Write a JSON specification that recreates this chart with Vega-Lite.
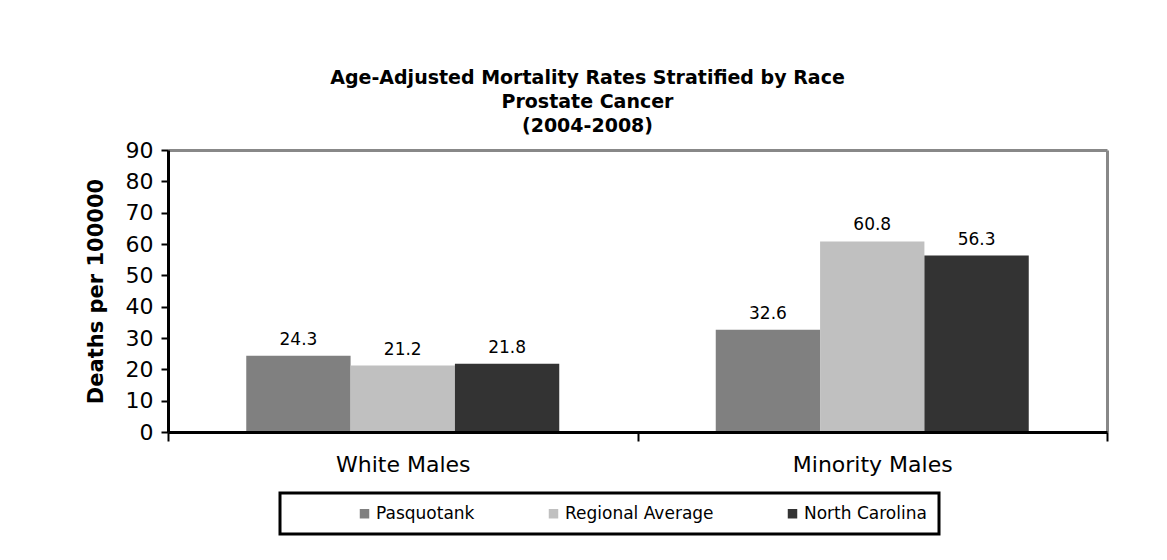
{
  "$schema": "https://vega.github.io/schema/vega-lite/v6.json",
  "width": 939,
  "height": 282,
  "autosize": {"type": "none"},
  "padding": {"left": 168, "top": 150, "right": 60, "bottom": 128},
  "background": "white",
  "config": {
    "font": "DejaVu Sans",
    "view": {"stroke": null},
    "legend": {"strokeWidth": 3}
  },
  "title": {
    "text": ["Age-Adjusted Mortality Rates Stratified by Race", "Prostate Cancer", "(2004-2008)"],
    "font": "DejaVu Sans",
    "fontSize": 19,
    "fontWeight": "bold",
    "lineHeight": 24,
    "anchor": "middle",
    "dx": -50,
    "offset": 3,
    "color": "black"
  },
  "data": {
    "values": [
      {"group": "White Males", "series": "Pasquotank", "value": 24.3},
      {"group": "White Males", "series": "Regional Average", "value": 21.2},
      {"group": "White Males", "series": "North Carolina", "value": 21.8},
      {"group": "Minority Males", "series": "Pasquotank", "value": 32.6},
      {"group": "Minority Males", "series": "Regional Average", "value": 60.8},
      {"group": "Minority Males", "series": "North Carolina", "value": 56.3}
    ]
  },
  "resolve": {"axis": {"x": "independent", "y": "independent"}},
  "layer": [
    {
      "mark": {"type": "bar"},
      "encoding": {
        "x": {
          "field": "group", "type": "nominal", "sort": ["White Males", "Minority Males"],
          "scale": {"paddingInner": 0, "paddingOuter": 0},
          "axis": {
            "title": null, "labelAngle": 0, "labelFontSize": 22, "labelColor": "black",
            "labelPadding": 13, "tickBand": "extent", "tickSize": 9, "tickWidth": 2,
            "tickColor": "black", "domainColor": "black", "domainWidth": 3, "zindex": 1
          }
        },
        "xOffset": {
          "field": "series", "type": "nominal",
          "sort": ["Pasquotank", "Regional Average", "North Carolina"],
          "scale": {"paddingInner": 0, "paddingOuter": 0.75}
        },
        "y": {
          "field": "value", "type": "quantitative",
          "scale": {"domain": [0, 90]},
          "axis": {
            "values": [0, 10, 20, 30, 40, 50, 60, 70, 80, 90],
            "grid": false, "labelFontSize": 22, "labelColor": "black", "labelPadding": 8,
            "tickSize": 7, "tickWidth": 2, "tickColor": "black",
            "domainColor": "black", "domainWidth": 3, "zindex": 1,
            "title": "Deaths per 100000", "titleFontSize": 21, "titleFontWeight": "bold",
            "titleColor": "black", "titlePadding": 19
          }
        },
        "color": {
          "field": "series", "type": "nominal",
          "sort": ["Pasquotank", "Regional Average", "North Carolina"],
          "scale": {"range": ["#808080", "#c0c0c0", "#333333"]},
          "legend": {
            "orient": "none", "direction": "horizontal",
            "legendX": 112, "legendY": 343,
            "title": " ", "titleOrient": "left", "titlePadding": 64,
            "symbolType": "square", "symbolSize": 90, "symbolStrokeWidth": 0,
            "labelFontSize": 17, "labelColor": "black", "labelOffset": 3,
            "columnPadding": 70, "padding": 12,
            "strokeColor": "black", "fillColor": "white"
          }
        }
      }
    },
    {
      "mark": {"type": "text", "baseline": "bottom", "dy": -7, "fontSize": 17, "color": "black"},
      "encoding": {
        "x": {
          "field": "group", "type": "nominal", "sort": ["White Males", "Minority Males"],
          "axis": {"orient": "top", "title": null, "labels": false, "ticks": false, "domainColor": "#888888", "domainWidth": 3}
        },
        "xOffset": {
          "field": "series", "type": "nominal",
          "sort": ["Pasquotank", "Regional Average", "North Carolina"]
        },
        "y": {
          "field": "value", "type": "quantitative",
          "axis": {"orient": "right", "title": null, "labels": false, "ticks": false, "grid": false, "domainColor": "#888888", "domainWidth": 3}
        },
        "text": {"field": "value", "type": "quantitative", "format": ".1f"}
      }
    }
  ]
}
